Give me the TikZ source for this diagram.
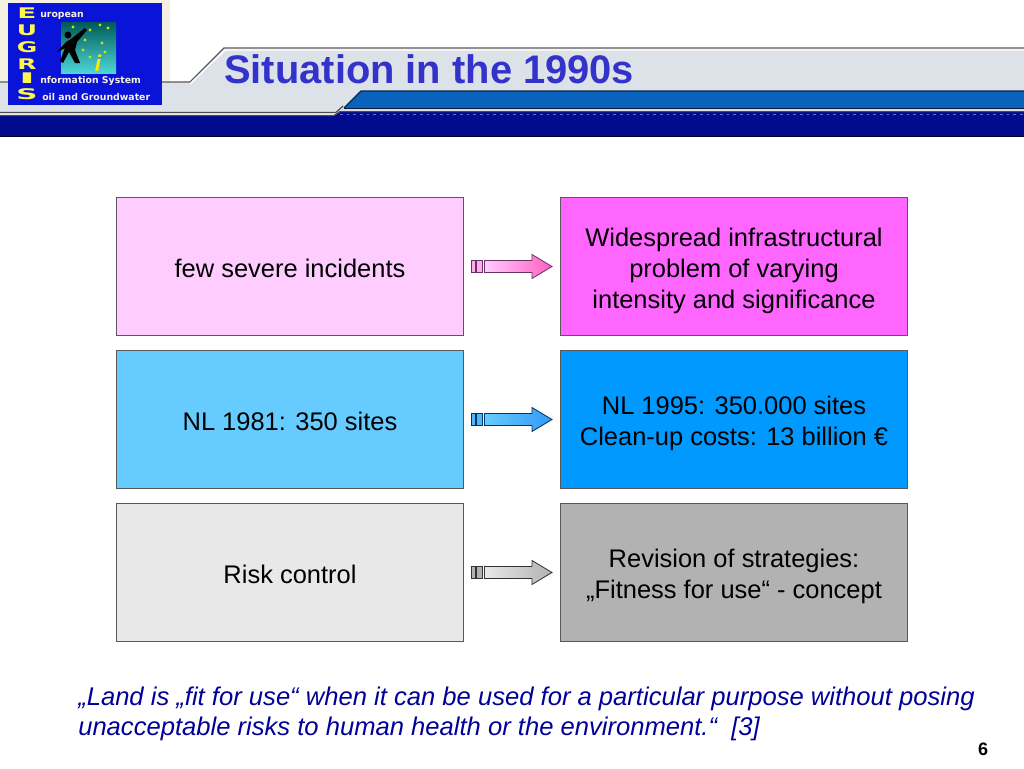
\documentclass[tikz,border=0pt]{standalone}
\usepackage{fontspec}
\setmainfont{Liberation Sans}
\newfontfamily\logofont{DejaVu Sans}
\usetikzlibrary{calc}
\definecolor{bandgray}{HTML}{DDE1E8}
\definecolor{navyband}{HTML}{000C8C}
\definecolor{midband}{HTML}{0A62BC}
\definecolor{logoblue}{HTML}{0A14D8}
\definecolor{logocream}{HTML}{F5F1E2}
\definecolor{titleblue}{HTML}{3333CC}
\definecolor{quoteblue}{HTML}{000099}
\definecolor{pinklight}{HTML}{FFCCFF}
\definecolor{pinkstrong}{HTML}{FF66FF}
\definecolor{pinkarrow}{HTML}{FF5FC0}
\definecolor{pinkedge}{HTML}{663366}
\definecolor{bluelight}{HTML}{66CCFF}
\definecolor{bluestrong}{HTML}{0099FF}
\definecolor{bluearrow}{HTML}{3399F5}
\definecolor{blueedge}{HTML}{003366}
\definecolor{graylight}{HTML}{E8E8E8}
\definecolor{graystrong}{HTML}{B2B2B2}
\definecolor{grayedge}{HTML}{333333}
\newcommand{\lowerfirst}{\rule{0pt}{20pt}}
\newcommand{\lowerone}{\rule{0pt}{16.5pt}}
\tikzset{
  panel/.style={draw=black!65, line width=0.75pt, minimum width=260.25pt, minimum height=103pt,
    align=center, inner sep=0pt, font=\fontsize{19.1}{23.25}\selectfont},
  arrowbody/.style={line width=0.6pt},
  logotext/.style={anchor=base west, inner sep=0pt, text=logocream, font=\logofont\bfseries\fontsize{7}{8}\selectfont},
  logoletter/.style={anchor=center, inner sep=0pt, text=yellow!70!white, font=\logofont\bfseries\fontsize{11}{11}\selectfont}
}
\begin{document}
\begin{tikzpicture}[x=0.75pt,y=-0.75pt]
\useasboundingbox (0,0) rectangle (1024,768);
\fill[white] (0,0) rectangle (1024,768);
% header
\fill[logocream] (0,0) rectangle (170,82);
\fill[bandgray] (0,82) -- (190,82) -- (224,49) -- (1024,49) -- (1024,112) -- (0,112) -- cycle;
\draw[black!65, line width=1pt] (0,82) -- (190,82) -- (224,48) -- (1024,48);
\draw[white, line width=1pt] (190,84) -- (225,50) -- (1024,50);
\fill[midband] (361,91) -- (1024,91) -- (1024,108) -- (344,108) -- cycle;
\draw[black!60!midband, line width=1pt] (344,108) -- (361,91) -- (1024,91);
\draw[black!70!midband, line width=1pt] (344,108.5) -- (1024,108.5);
\draw[black!70, line width=0.9pt] (0,112.5) -- (336,112.5) -- (343,106);
\draw[white!85!black, line width=1pt] (0,114) -- (336,114) -- (342,110) -- (1024,110);
\fill[navyband] (0,116) -- (334,116) -- (340,112) -- (1024,112) -- (1024,136) -- (0,136) -- cycle;
\draw[black!70, line width=0.75pt] (0,115.5) -- (334,115.5) -- (340,111.5) -- (1024,111.5);
\draw[black!75!navyband, line width=0.75pt] (0,136) -- (1024,136);
\draw[blue!60!white, line width=0.4pt, dash pattern=on 2pt off 3pt] (340,114.5) -- (1024,114.5);
% logo
\fill[logoblue] (8,3) rectangle (162,105);
\shade[bottom color=teal!45!cyan!70!white, top color=teal!70!black] (61,22) rectangle (116,73);
\fill[black] (68,35) circle (3.5);
\fill[black] (71,39) -- (85,28) -- (87,30) -- (77,42) -- (75,50) -- (80,63) -- (75,63) -- (69,52) -- (63,63) -- (60,61) -- (65,48) -- (57,52) -- (66,42) -- cycle;
\foreach \sx/\sy in {73/27,90/30,100/25,108/28,85/40,102/43,83/50,105/52,90/57}
  \fill[yellow!80!green] (\sx,\sy) circle (1.6);
\node[anchor=center, inner sep=0pt, text=yellow!90!orange, font=\bfseries\itshape\fontsize{17}{17}\selectfont] (logoi) at (98,63) {i};
\node[logoletter] (letterE) at (27,13) {\scalebox{1.9}[1]{E}};
\node[logoletter] (letterU) at (27,30) {\scalebox{1.7}[1]{U}};
\node[logoletter] (letterG) at (27,47) {\scalebox{1.7}[1]{G}};
\node[logoletter] (letterR) at (27,64) {\scalebox{1.7}[1]{R}};
\node[logoletter] (letterI) at (27,78) {\scalebox{3}[1]{I}};
\node[logoletter] (letterS) at (27,94) {\scalebox{2}[1]{S}};
\node[logotext] (logoeu) at (40,17) {uropean};
\node[logotext] (logoinf) at (40,83) {nformation System};
\node[logotext] (logosoil) at (42,100) {oil and Groundwater};
% title
\node[anchor=base west, inner sep=0pt, text=titleblue, font=\bfseries\fontsize{29.9}{32}\selectfont] (title) at (224,83) {Situation in the 1990s};
% boxes
\node[panel, fill=pinklight] (few) at (290,266.5) {\lowerone few severe incidents};
\node[panel, fill=pinkstrong] (wide) at (734,266.5) {\lowerfirst Widespread infrastructural\ \\problem of varying\ \\intensity and significance};
\node[panel, fill=bluelight] (sitesold) at (290,419.5) {\lowerone NL 1981: 350 sites};
\node[panel, fill=bluestrong] (sitesnew) at (734,419.5) {\lowerfirst NL 1995: 350.000 sites\\Clean-up costs: 13 billion €};
\node[panel, fill=graylight] (risk) at (290,572.5) {\lowerone Risk control};
\node[panel, fill=graystrong] (revision) at (734,572.5) {\lowerfirst Revision of strategies:\\„Fitness for use“ - concept};
% arrows
\foreach \a/\b/\c/\d/\e/\f in {few/wide/pinklight/pinkarrow/pinkedge/pinklight!70!pinkarrow,sitesold/sitesnew/bluelight/bluearrow/blueedge/bluelight!60!bluearrow,risk/revision/graylight/graystrong/grayedge/graystrong}{
  \draw[arrowbody, draw=\e, fill=\f] ($(\a.east)+(7,-6)$) rectangle ($(\a.east)+(11,6)$);
  \draw[arrowbody, draw=\e, fill=\f] ($(\a.east)+(12.5,-6)$) rectangle ($(\a.east)+(18,6)$);
  \draw[arrowbody, draw=\e, left color=\c, right color=\d]
    ($(\a.east)+(20.5,-6)$) -- ($(\b.west)+(-28,-6)$) -- ($(\b.west)+(-28,-12)$) -- ($(\b.west)+(-8,0)$)
    -- ($(\b.west)+(-28,12)$) -- ($(\b.west)+(-28,6)$) -- ($(\a.east)+(20.5,6)$) -- cycle;
}
% quote
\node[anchor=base west, inner sep=0pt, align=left, text=quoteblue, font=\itshape\fontsize{19.2}{22.5}\selectfont] (quote) at (78,735)
  {„Land is „fit for use“ when it can be used for a particular purpose without posing\\unacceptable risks to human health or the environment.“~~[3]};
\node[anchor=center, inner sep=0pt, text=black, font=\bfseries\fontsize{13.5}{14}\selectfont] (pagenum) at (983,749) {6};
\end{tikzpicture}
\end{document}
